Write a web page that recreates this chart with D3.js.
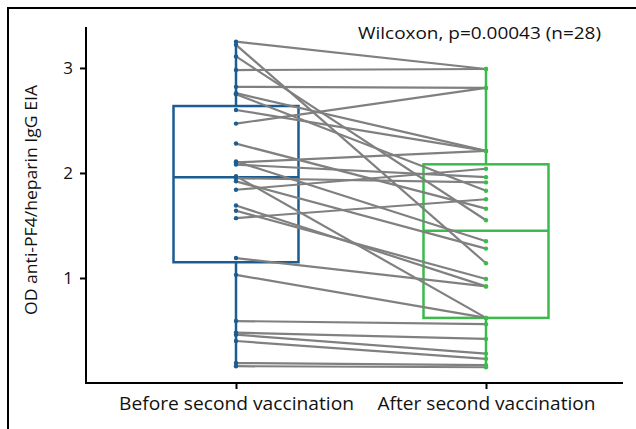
<!DOCTYPE html>
<html>
<head>
<meta charset="utf-8">
<script src="https://cdn.jsdelivr.net/npm/d3@7"></script>
<style>
  body { margin: 0; background: #fff; }
  svg text { font-family: "Open Sans", "Noto Sans", sans-serif; fill: #111; }
</style>
</head>
<body>
<div id="chart"></div>
<script>
////////////////////
// DATA
var groups = ["Before second vaccination", "After second vaccination"];
var before = [3.25, 3.22, 3.11, 2.98, 2.82, 2.76, 2.75, 2.60, 2.47, 2.28,
              2.11, 2.10, 2.08, 1.97, 1.95, 1.92, 1.84, 1.69, 1.64, 1.57,
              1.19, 1.03, 0.59, 0.48, 0.46, 0.40, 0.19, 0.16];
var after  = [2.99, 1.14, 1.55, 2.99, 2.81, 2.21, 1.83, 2.21, 2.81, 1.66,
              1.35, 2.21, 1.96, 0.62, 1.91, 1.28, 2.04, 0.92, 0.99, 1.75,
              0.92, 0.62, 0.56, 0.42, 0.28, 0.23, 0.17, 0.15];
var yTicks = [1, 2, 3];
var colors = ["#1b5c92", "#3dba4c"];
var note = "Wilcoxon, p=0.00043 (n=28)";

//////////////////
// LAYOUT
var w = 636, h = 429;
var mLeft = 86, mRight = 623, mTop = 27, mBottom = 383;

var svg = d3.select("#chart").append("svg")
  .attr("width", w)
  .attr("height", h);

// outer frame
svg.append("rect")
  .attr("x", 8).attr("y", 8)
  .attr("width", 660).attr("height", 460)
  .attr("fill", "none")
  .attr("stroke", "#000")
  .attr("stroke-width", 2);

var x = d3.scalePoint().domain(groups).range([236, 486]);
var y = d3.scaleLinear().domain([0, 3.39]).range([mBottom, mTop]);
var boxW = 125;

var series = [before, after];

//////////////////
// BOXES
series.forEach(function(vals, i) {
  var s = vals.slice().sort(d3.ascending);
  var q1 = d3.quantile(s, 0.25), med = d3.quantile(s, 0.5), q3 = d3.quantile(s, 0.75);
  var iqr = q3 - q1;
  var lo = d3.min(s.filter(function(v) { return v >= q1 - 1.5 * iqr; }));
  var hi = d3.max(s.filter(function(v) { return v <= q3 + 1.5 * iqr; }));
  var cx = x(groups[i]);
  var g = svg.append("g")
    .attr("stroke", colors[i])
    .attr("stroke-width", 2.5)
    .attr("fill", "none");
  g.append("line").attr("x1", cx).attr("x2", cx).attr("y1", y(q3)).attr("y2", y(hi));
  g.append("line").attr("x1", cx).attr("x2", cx).attr("y1", y(q1)).attr("y2", y(lo));
  g.append("rect")
    .attr("x", cx - boxW / 2).attr("width", boxW)
    .attr("y", y(q3)).attr("height", y(q1) - y(q3));
  g.append("line")
    .attr("x1", cx - boxW / 2).attr("x2", cx + boxW / 2)
    .attr("y1", y(med)).attr("y2", y(med));
});

//////////////////
// PAIRED LINES
svg.append("g").selectAll("line")
  .data(before.map(function(b, i) { return [b, after[i]]; }))
  .enter().append("line")
  .attr("x1", x(groups[0])).attr("x2", x(groups[1]))
  .attr("y1", function(d) { return y(d[0]); })
  .attr("y2", function(d) { return y(d[1]); })
  .attr("stroke", "#808080")
  .attr("stroke-width", 2.2);

//////////////////
// POINTS
series.forEach(function(vals, i) {
  svg.append("g").selectAll("circle")
    .data(vals)
    .enter().append("circle")
    .attr("cx", x(groups[i]))
    .attr("cy", function(d) { return y(d); })
    .attr("r", 2.2)
    .attr("fill", colors[i]);
});

//////////////////
// AXES
var yAxis = svg.append("g")
  .attr("transform", "translate(" + mLeft + ",0)")
  .call(d3.axisLeft(y).tickValues(yTicks).tickFormat(d3.format("d")).tickSize(6).tickPadding(7));
yAxis.select(".domain").remove();
yAxis.selectAll("line").attr("stroke", "#000").attr("stroke-width", 2);
yAxis.selectAll("text").style("font-size", "17px").attr("fill", "#111");

var xAxis = svg.append("g")
  .attr("transform", "translate(0," + mBottom + ")")
  .call(d3.axisBottom(x).tickSize(6).tickPadding(9));
xAxis.select(".domain").remove();
xAxis.selectAll("line").attr("stroke", "#000").attr("stroke-width", 2);
xAxis.selectAll("text")
  .style("font-size", "17.5px")
  .attr("fill", "#111")
  .attr("textLength", function(d, i) { return i === 0 ? 235 : 218; })
  .attr("lengthAdjust", "spacingAndGlyphs");

// axis lines
svg.append("path")
  .attr("d", "M" + mLeft + "," + mTop + "V" + mBottom + "H" + mRight)
  .attr("fill", "none")
  .attr("stroke", "#000")
  .attr("stroke-width", 2);

// y label
svg.append("text")
  .attr("transform", "translate(37," + ((mTop + mBottom) / 2 - 5) + ") rotate(-90)")
  .attr("text-anchor", "middle")
  .style("font-size", "17px")
  .attr("textLength", 230)
  .attr("lengthAdjust", "spacingAndGlyphs")
  .text("OD anti-PF4/heparin IgG EIA");

// test annotation
svg.append("text")
  .attr("x", 601).attr("y", 39)
  .attr("text-anchor", "end")
  .style("font-size", "16px")
  .attr("textLength", 243)
  .attr("lengthAdjust", "spacingAndGlyphs")
  .text(note);
</script>
</body>
</html>
